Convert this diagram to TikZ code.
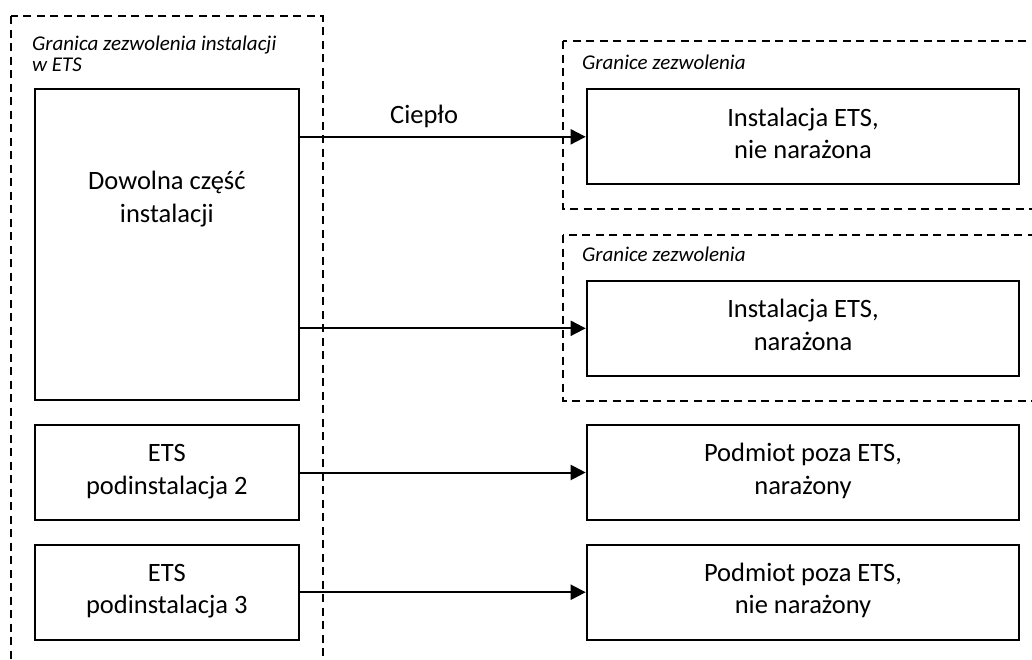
\documentclass[tikz,border=0pt]{standalone}
\usepackage{fontspec}
\setmainfont{Carlito}
\usetikzlibrary{arrows.meta}
\newcommand\bodyfont{\fontsize{26.5}{32.5}\selectfont}
\newcommand\framefont{\fontsize{21}{21.7}\selectfont\itshape}
\begin{document}
\begin{tikzpicture}[x=1pt,y=-1pt,
  unit/.style={draw, line width=2pt, minimum height=95pt, inner sep=0pt,
    align=center, font=\bodyfont, text height=43.5pt, text depth=0pt},
  leftunit/.style={unit, minimum width=263.7pt},
  rightunit/.style={unit, minimum width=432.6pt},
  frame/.style={draw, line width=1.9pt, dash pattern=on 8pt off 5.5pt},
  framelabel/.style={font=\framefont, inner sep=0pt, align=left},
  flow/.style={draw, line width=2pt, -{Triangle[length=15pt,width=15pt]}}]
  \useasboundingbox (0,0) rectangle (1032,659);
  \clip (0,0) rectangle (1032,659);

  % permit boundaries
  \draw[frame] (11,16) rectangle (322.7,700);
  \draw[frame] (562.7,41) rectangle (1045,209);
  \draw[frame] (562.7,235) rectangle (1045,401);
  \node[framelabel, anchor=base west] (permitlabel) at (32,71.7)
    {Granica zezwolenia instalacji\\w ETS};
  \node[framelabel, anchor=base west] (boundA) at (582,69.3) {Granice zezwolenia};
  \node[framelabel, anchor=base west] (boundB) at (582,261.7) {Granice zezwolenia};

  % units inside the installation
  \node[leftunit, minimum height=311pt] (whole) at (166.85,244.75) {};
  \node[font=\bodyfont, align=center, inner sep=0pt, anchor=base] (wholetext)
    at (166.85,222.3) {Dowolna część\\instalacji};
  \node[leftunit] (sub2) at (166.85,472.5) {ETS\\podinstalacja 2};
  \node[leftunit] (sub3) at (166.85,592.2) {ETS\\podinstalacja 3};

  % heat consumers
  \node[rightunit] (instA) at (803,136.8) {Instalacja ETS,\\nie narażona};
  \node[rightunit] (instB) at (803,328.3) {Instalacja ETS,\\narażona};
  \node[rightunit] (podA) at (803,472.5) {Podmiot poza ETS,\\narażony};
  \node[rightunit] (podB) at (803,592.2) {Podmiot poza ETS,\\nie narażony};

  % heat flows
  \draw[flow] (whole.east |- instA) -- node[pos=0.435, anchor=base, yshift=13.4pt, font=\bodyfont] (heat) {Ciepło} (instA.west);
  \draw[flow] (whole.east |- instB) -- (instB.west);
  \draw[flow] (sub2.east) -- (podA.west);
  \draw[flow] (sub3.east) -- (podB.west);
\end{tikzpicture}
\end{document}
